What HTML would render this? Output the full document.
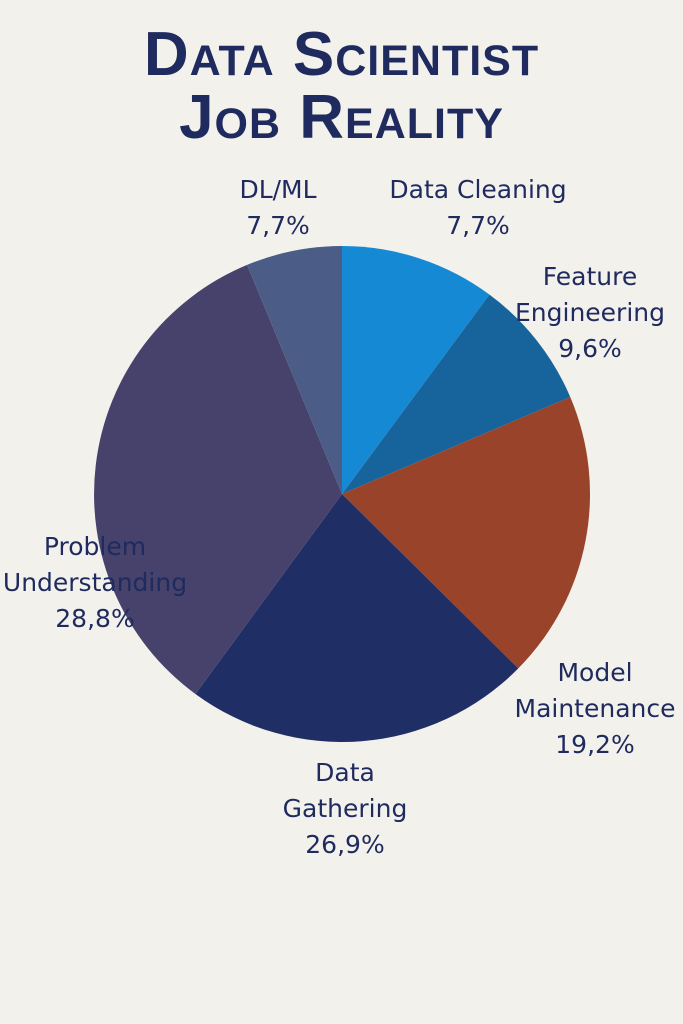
<!DOCTYPE html>
<html><head><meta charset="utf-8"><style>
html,body{margin:0;padding:0;background:#f3f1ec;}
body{width:683px;height:1024px;position:relative;overflow:hidden;font-family:"Liberation Sans",sans-serif;}
.t{position:absolute;left:0;width:683px;text-align:center;color:#1f2a5e;font-weight:bold;font-variant:small-caps;font-size:62px;letter-spacing:1px;line-height:62px;}
.l{position:absolute;color:#1f2a5e;font-family:"DejaVu Sans",sans-serif;font-size:25px;line-height:36px;text-align:center;white-space:nowrap;}
</style></head><body>
<div class="t" style="top:24px;">Data Scientist</div>
<div class="t" style="top:87px;">Job Reality</div>
<svg width="683" height="1024" style="position:absolute;left:0;top:0">
<g transform="translate(342,494)">
<path d="M0,0 L0,-248 A248,248 0 0,1 147.5,-199.4 Z" fill="#1589d3"/>
<path d="M0,0 L147.5,-199.4 A248,248 0 0,1 228.3,-96.9 Z" fill="#17649d"/>
<path d="M0,0 L228.3,-96.9 A248,248 0 0,1 176.3,174.4 Z" fill="#99432a"/>
<path d="M0,0 L176.3,174.4 A248,248 0 0,1 -146.6,200.0 Z" fill="#202e66"/>
<path d="M0,0 L-146.6,200.0 A248,248 0 0,1 -94.9,-229.1 Z" fill="#46426b"/>
<path d="M0,0 L-94.9,-229.1 A248,248 0 0,1 0,-248 Z" fill="#4b5d87"/>
</g></svg>
<div class="l" style="left:218px;top:172px;width:120px;">DL/ML<br>7,7%</div>
<div class="l" style="left:378px;top:172px;width:200px;">Data Cleaning<br>7,7%</div>
<div class="l" style="left:505px;top:259px;width:170px;">Feature<br>Engineering<br>9,6%</div>
<div class="l" style="left:505px;top:655px;width:180px;">Model<br>Maintenance<br>19,2%</div>
<div class="l" style="left:260px;top:755px;width:170px;">Data<br>Gathering<br>26,9%</div>
<div class="l" style="left:-10px;top:529px;width:210px;">Problem<br>Understanding<br>28,8%</div>
</body></html>
